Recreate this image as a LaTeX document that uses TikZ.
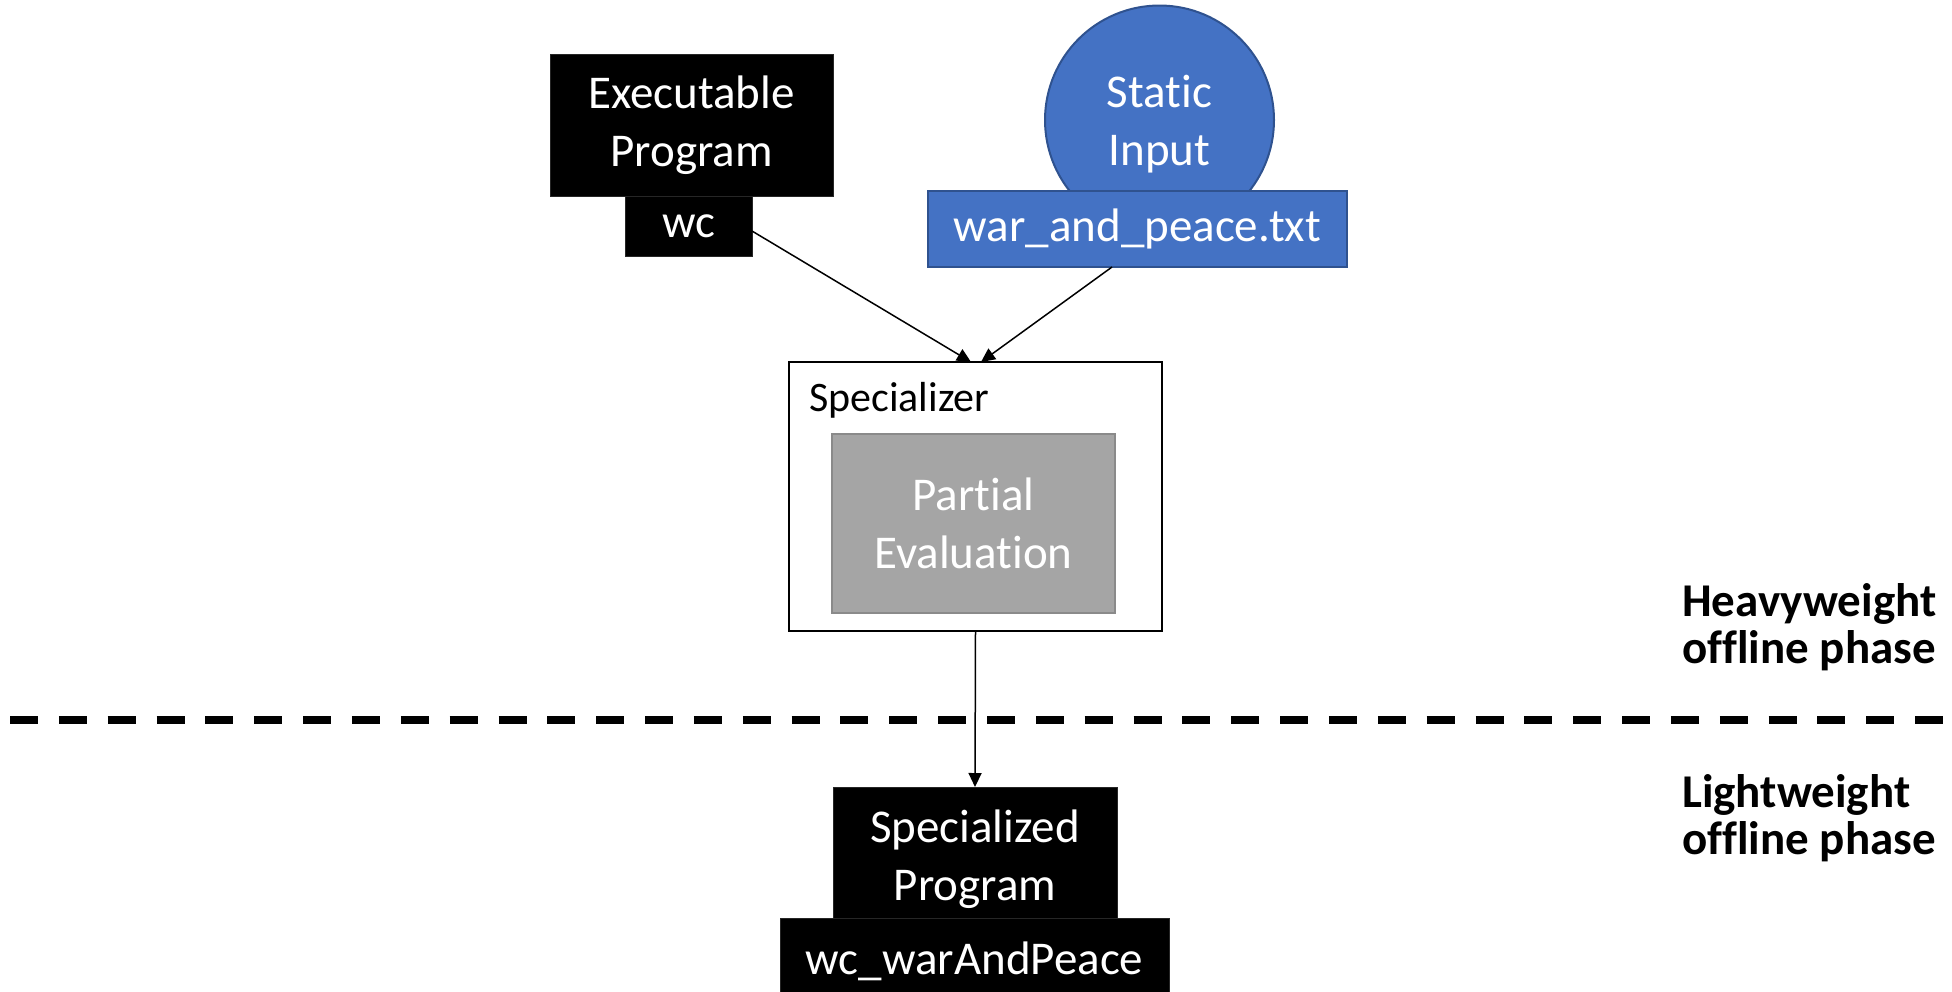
\documentclass[tikz,border=0pt]{standalone}
\usepackage{fontspec}
\setmainfont{Carlito}[Ligatures=NoCommon]
\usetikzlibrary{arrows.meta,shapes.geometric}

\definecolor{inblue}{HTML}{4472C4}
\definecolor{inblueedge}{HTML}{2F528F}
\definecolor{pegray}{HTML}{A5A5A5}
\definecolor{pegrayedge}{HTML}{8A8A8A}

\tikzset{
  bigtext/.style={font=\fontsize{47}{58}\selectfont},
  blackbox/.style={rectangle, fill=black, draw=black!85, line width=0.8pt,
    text=white, bigtext, align=center, inner sep=0pt, outer sep=0pt},
  bluebox/.style={rectangle, fill=inblue, draw=inblueedge, line width=2pt,
    text=white, bigtext, align=center, inner sep=0pt, outer sep=0pt},
  framebox/.style={rectangle, draw=black, line width=2.5pt, inner sep=0pt, outer sep=0pt},
  graybox/.style={rectangle, fill=pegray, draw=pegrayedge, line width=2pt,
    text=white, bigtext, align=center, inner sep=0pt, outer sep=0pt},
  whitetext/.style={bigtext, text=white, align=center, inner sep=0pt},
  flow/.style={line width=1.5pt, -{Triangle[length=14pt,width=13pt]}},
  phaselabel/.style={font=\fontsize{47}{47}\bfseries\selectfont, align=left,
    anchor=west, inner sep=0pt},
}

\begin{document}
\begin{tikzpicture}[x=1pt, y=-1pt]
  \useasboundingbox (0,0) rectangle (1952,991);

  % executable program
  \node[blackbox, minimum width=283pt, minimum height=142pt] (exe) at (691.5,125)
    {Executable\\[0pt]Program};
  \node[blackbox, minimum width=127pt, minimum height=60pt] (wc) at (688.5,226) {wc};

  % static input
  \node[circle, fill=inblue, draw=inblueedge, line width=2pt, minimum size=229pt,
    inner sep=0pt, outer sep=0pt] (static) at (1159.5,120) {};
  \node[whitetext] (statictext) at (1159.5,124) {Static\\Input};
  \node[bluebox, minimum width=419pt, minimum height=76pt] (wap) at (1137.5,229)
    {war\_and\_peace.txt};

  % specializer
  \node[framebox, minimum width=373pt, minimum height=269pt] (spec) at (975.5,496.5) {};
  \node[font=\fontsize{42}{50}\selectfont, anchor=west, inner sep=0pt] (speclabel)
    at (809,400) {Specializer};
  \node[graybox, minimum width=283pt, minimum height=179pt] (pe) at (973.5,523.5)
    {Partial\\Evaluation};

  % specialized program
  \node[blackbox, minimum width=284pt, minimum height=131pt] (sp) at (975,852.5) {};
  \node[whitetext] (sptext) at (975,859.5) {Specialized\\Program};
  \node[blackbox, minimum width=389pt, minimum height=80pt] (wcwp) at (974.5,958) {};
  \node[whitetext] (wcwptext) at (974.5,961) {wc\_warAndPeace};

  % connectors
  \draw[flow] ([yshift=-5pt]wc.east) -- ([xshift=-4.5pt]spec.north);
  \draw[flow] ([xshift=-25.5pt]wap.south) -- ([xshift=5.5pt]spec.north);
  \draw[flow] (spec.south) -- (sp.north);

  % phase separator
  \coordinate (sepL) at (10,720);
  \coordinate (sepR) at (1952,720);
  \draw[line width=7.5pt, dash pattern=on 28pt off 20.85pt] (sepL) -- (sepR);

  % phase labels
  \node[phaselabel] (heavy) at (1682,627) {Heavyweight\\offline phase};
  \node[phaselabel] (light) at (1682,818) {Lightweight\\offline phase};
\end{tikzpicture}
\end{document}
